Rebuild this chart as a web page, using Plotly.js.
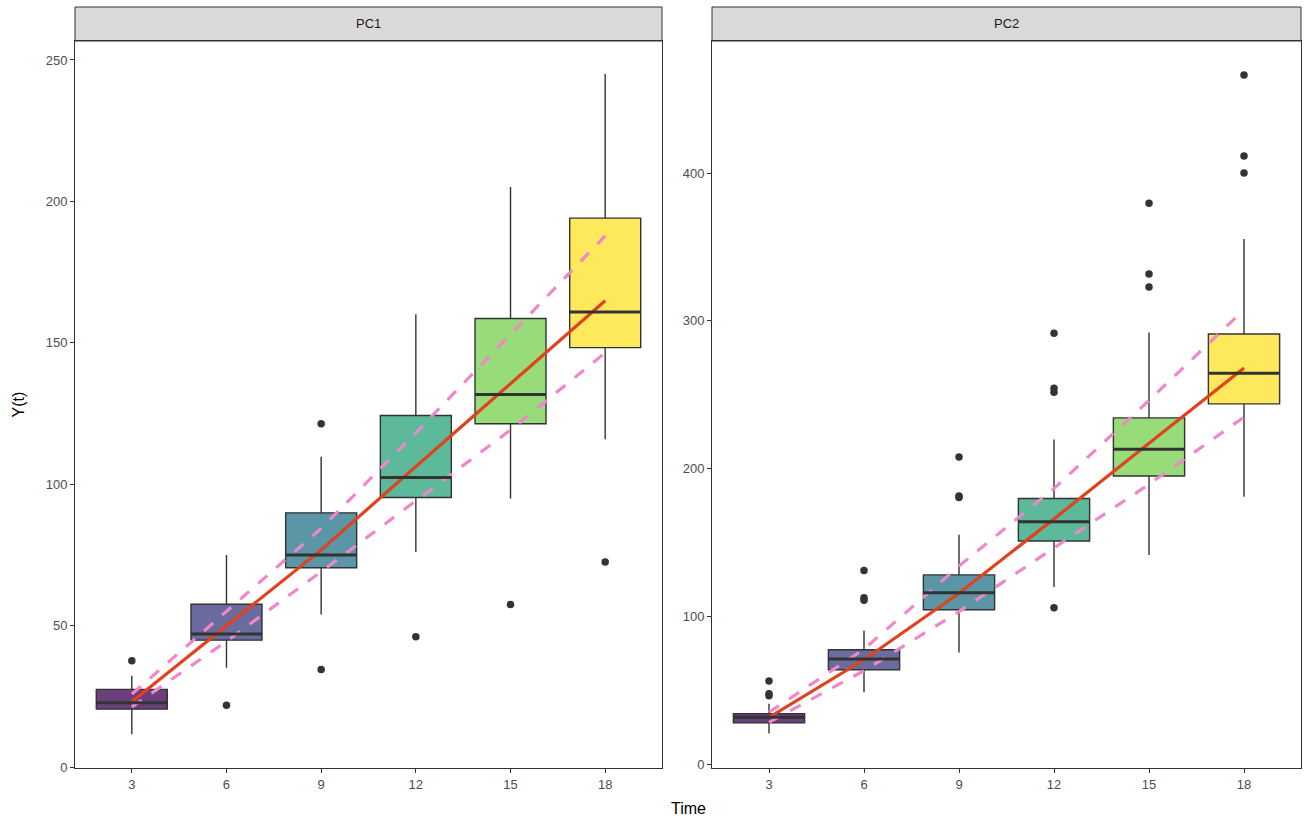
<!DOCTYPE html>
<html>
<head>
<meta charset="utf-8">
<script src="https://cdn.plot.ly/plotly-3.0.1.min.js"></script>
<style>html,body{margin:0;padding:0;background:#fff;}#chart{width:1310px;height:824px;}</style>
</head>
<body>
<div id="chart"></div>
<script>
// ---- data ----
const times = ['3', '6', '9', '12', '15', '18'];
const boxColors = ['#6b3f7c', '#6a6b9f', '#5a96a6', '#5cb99a', '#98db79', '#fee95c'];

// PC1
const pc1Q1 = [20.5, 44.9, 70.5, 95.3, 121.4, 148.3];
const pc1Median = [22.8, 47.1, 75.0, 102.4, 131.7, 160.9];
const pc1Q3 = [27.5, 57.6, 89.9, 124.3, 158.6, 194.1];
const pc1Lower = [11.6, 35.1, 54.0, 76.1, 95.0, 115.9];
const pc1Upper = [32.3, 75.0, 109.7, 160.1, 205.1, 245.0];
const pc1OutX = ['3', '6', '9', '9', '12', '15', '18'];
const pc1OutY = [37.6, 21.9, 121.4, 34.5, 46.1, 57.5, 72.5];
const pc1Fit = [23.1, 49.8, 76.8, 106.3, 135.7, 164.9];
const pc1BandHi = [25.8, 55.1, 84.4, 118.2, 152.8, 187.8];
const pc1BandLo = [21.3, 44.5, 69.1, 94.2, 119.2, 146.5];

// PC2
const pc2Q1 = [28.1, 64.1, 104.6, 151.1, 195.1, 243.9];
const pc2Median = [32.0, 71.3, 116.2, 164.1, 213.2, 264.6];
const pc2Q3 = [34.4, 77.6, 128.2, 179.9, 234.4, 291.1];
const pc2Lower = [20.9, 48.8, 75.8, 120.0, 141.7, 181.0];
const pc2Upper = [41.1, 90.6, 155.3, 219.7, 292.2, 355.3];
const pc2OutX = ['3', '3', '3', '6', '6', '6', '9', '9', '9', '12', '12', '12', '12', '15', '15', '15', '18', '18', '18'];
const pc2OutY = [46.5, 47.8, 56.4, 111.0, 112.8, 131.1, 180.5, 181.5, 208.0, 105.9, 251.7, 254.5, 291.6, 322.9, 331.7, 379.5, 400.0, 411.5, 466.3];
const pc2Fit = [31.9, 70.8, 115.8, 166.1, 217.2, 268.1];
const pc2BandHi = [35.3, 78.0, 134.2, 186.6, 246.2, 307.6];
const pc2BandLo = [28.5, 63.4, 103.4, 146.2, 189.5, 234.9];

const panelTitles = ['PC1', 'PC2'];
const pc1Ticks = [0, 50, 100, 150, 200, 250];
const pc2Ticks = [0, 100, 200, 300, 400];

// ---- build ----
(function () {
const W = 1310, H = 824;
const BOXW = 0.75;
const dark = '#333333';
const traces = [];
const shapes = [];

function addPanel(ax, ay, q1, med, q3, lo, hi, outX, outY, fit, bHi, bLo) {
  for (let i = 0; i < times.length; i++) {
    traces.push({
      type: 'box', xaxis: ax, yaxis: ay, x: [times[i]],
      q1: [q1[i]], median: [med[i]], q3: [q3[i]],
      lowerfence: [lo[i]], upperfence: [hi[i]],
      width: BOXW, whiskerwidth: 0, boxpoints: false,
      fillcolor: boxColors[i], line: { color: dark, width: 1.4 },
      showlegend: false, hoverinfo: 'skip'
    });
    shapes.push({
      type: 'line', xref: ax, yref: ay,
      x0: i - BOXW / 2, x1: i + BOXW / 2, y0: med[i], y1: med[i],
      line: { color: dark, width: 3 }
    });
  }
  traces.push({
    type: 'scatter', mode: 'markers', xaxis: ax, yaxis: ay,
    x: outX, y: outY, marker: { color: dark, size: 7.5 },
    showlegend: false, hoverinfo: 'skip'
  });
  traces.push({
    type: 'scatter', mode: 'lines', xaxis: ax, yaxis: ay, x: times, y: bHi,
    line: { color: '#ee88c8', width: 3.2, dash: '12px,12px' }, showlegend: false, hoverinfo: 'skip'
  });
  traces.push({
    type: 'scatter', mode: 'lines', xaxis: ax, yaxis: ay, x: times, y: bLo,
    line: { color: '#ee88c8', width: 3.2, dash: '12px,12px' }, showlegend: false, hoverinfo: 'skip'
  });
  traces.push({
    type: 'scatter', mode: 'lines', xaxis: ax, yaxis: ay, x: times, y: fit,
    line: { color: '#e0421e', width: 3.2 }, showlegend: false, hoverinfo: 'skip'
  });
}

addPanel('x', 'y', pc1Q1, pc1Median, pc1Q3, pc1Lower, pc1Upper, pc1OutX, pc1OutY, pc1Fit, pc1BandHi, pc1BandLo);
addPanel('x2', 'y2', pc2Q1, pc2Median, pc2Q3, pc2Lower, pc2Upper, pc2OutX, pc2OutY, pc2Fit, pc2BandHi, pc2BandLo);

const p1 = { l: 75, r: 662 }, p2 = { l: 712, r: 1301 };
const pTop = 41, pBottom = 768, stripTop = 7;
const fx = v => v / W, fy = v => 1 - v / H;

const tickFont = { family: 'Liberation Sans, Arial, sans-serif', size: 13, color: '#4d4d4d' };
function xAxis(l, r, anchor) {
  return {
    domain: [fx(l), fx(r)], anchor: anchor, type: 'category',
    categoryorder: 'array', categoryarray: times, range: [-0.6, 5.6],
    showgrid: false, zeroline: false, showline: true, mirror: true,
    linecolor: dark, linewidth: 1, ticks: 'outside', ticklen: 4, tickcolor: dark,
    tickwidth: 1, tickfont: tickFont, fixedrange: true
  };
}
function yAxis(range, tv, anchor) {
  return {
    domain: [fy(pBottom), fy(pTop)], anchor: anchor, range: range,
    tickvals: tv, ticktext: tv.map(String),
    showgrid: false, zeroline: false, showline: true, mirror: true,
    linecolor: dark, linewidth: 1, ticks: 'outside', ticklen: 4, tickcolor: dark,
    tickwidth: 1, tickfont: tickFont, fixedrange: true
  };
}

[p1, p2].forEach(p => {
  shapes.push({
    type: 'rect', xref: 'paper', yref: 'paper',
    x0: fx(p.l), x1: fx(p.r), y0: fy(pTop), y1: fy(stripTop),
    fillcolor: '#d9d9d9', line: { color: dark, width: 1 }, layer: 'below'
  });
});

const fontFam = 'Liberation Sans, Arial, sans-serif';
const base = { xref: 'paper', yref: 'paper', xanchor: 'center', yanchor: 'middle', showarrow: false };
const annotations = [
  Object.assign({ text: panelTitles[0], x: fx((p1.l + p1.r) / 2), y: fy((pTop + stripTop) / 2),
    font: { family: fontFam, size: 13, color: '#1a1a1a' } }, base),
  Object.assign({ text: panelTitles[1], x: fx((p2.l + p2.r) / 2), y: fy((pTop + stripTop) / 2),
    font: { family: fontFam, size: 13, color: '#1a1a1a' } }, base),
  Object.assign({ text: 'Time', x: fx(688), y: fy(808),
    font: { family: fontFam, size: 16, color: '#000' } }, base),
  Object.assign({ text: 'Y(t)', x: fx(18), y: fy((pTop + pBottom) / 2), textangle: -90,
    font: { family: fontFam, size: 16, color: '#000' } }, base)
];

const layout = {
  width: W, height: H, margin: { l: 0, r: 0, t: 0, b: 0 },
  paper_bgcolor: '#ffffff', plot_bgcolor: '#ffffff',
  boxmode: 'overlay', showlegend: false,
  xaxis: xAxis(p1.l, p1.r, 'y'),
  yaxis: yAxis([-0.3, 256.7], pc1Ticks, 'x'),
  xaxis2: xAxis(p2.l, p2.r, 'y2'),
  yaxis2: yAxis([-2.4, 489.3], pc2Ticks, 'x2'),
  shapes: shapes, annotations: annotations
};

Plotly.newPlot('chart', traces, layout, { displayModeBar: false, staticPlot: true });
})();
</script>
</body>
</html>
